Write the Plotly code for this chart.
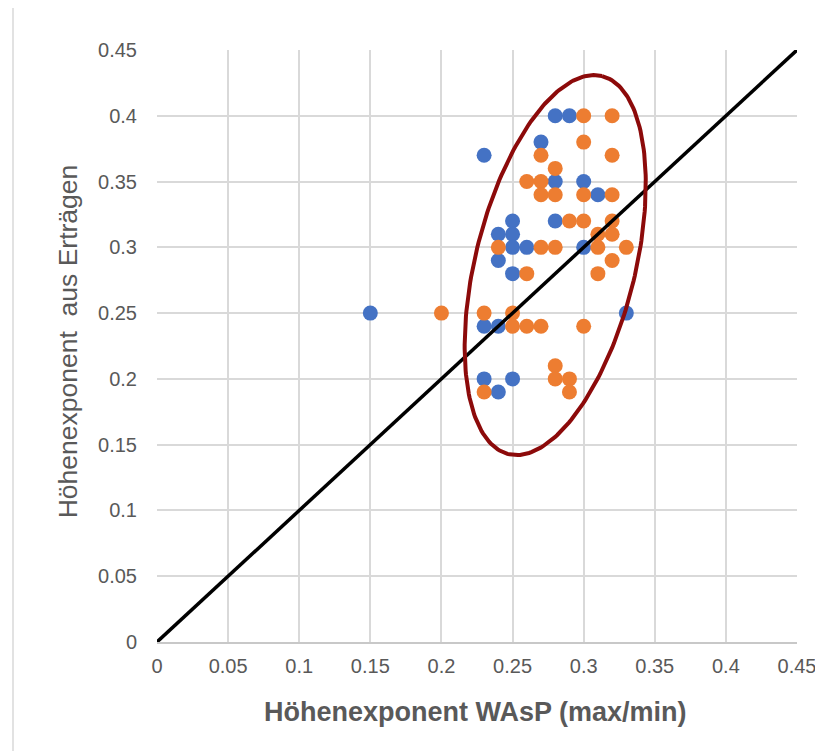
import numpy as np
import plotly.graph_objects as go

# ---- data ----
blue_x = [0.15, 0.23, 0.28, 0.29, 0.27, 0.28, 0.30, 0.31, 0.25, 0.28, 0.24, 0.25,
          0.25, 0.26, 0.30, 0.24, 0.25, 0.33, 0.23, 0.24, 0.23, 0.25, 0.24]
blue_y = [0.25, 0.37, 0.40, 0.40, 0.38, 0.35, 0.35, 0.34, 0.32, 0.32, 0.31, 0.31,
          0.30, 0.30, 0.30, 0.29, 0.28, 0.25, 0.24, 0.24, 0.20, 0.20, 0.19]

orange_x = [0.30, 0.32, 0.30, 0.27, 0.32, 0.28, 0.26, 0.27, 0.27, 0.28, 0.30, 0.32,
            0.29, 0.30, 0.32, 0.31, 0.32, 0.24, 0.27, 0.28, 0.31, 0.33, 0.32, 0.26,
            0.31, 0.20, 0.23, 0.25, 0.25, 0.26, 0.27, 0.30, 0.28, 0.28, 0.29, 0.29, 0.23]
orange_y = [0.40, 0.40, 0.38, 0.37, 0.37, 0.36, 0.35, 0.35, 0.34, 0.34, 0.34, 0.34,
            0.32, 0.32, 0.32, 0.31, 0.31, 0.30, 0.30, 0.30, 0.30, 0.30, 0.29, 0.28,
            0.28, 0.25, 0.25, 0.25, 0.24, 0.24, 0.24, 0.24, 0.21, 0.20, 0.20, 0.19, 0.19]

diag_x = [0, 0.45]
diag_y = [0, 0.45]

tick_vals = [0, 0.05, 0.1, 0.15, 0.2, 0.25, 0.3, 0.35, 0.4, 0.45]
tick_text = ["0", "0.05", "0.1", "0.15", "0.2", "0.25", "0.3", "0.35", "0.4", "0.45"]

x_title = "Höhenexponent WAsP (max/min)"
y_title = "Höhenexponent\u00a0 aus Erträgen"

# ---- figure geometry (page adds an 8px body margin) ----
W, H = 815, 743
ML, MR, MT, MB = 149, 26, 42, 109
PW, PH = W - ML - MR, H - MT - MB
sx = PW / 0.45
sy = PH / 0.45

# ---- highlight ellipse (decoration) ----
ell_cx, ell_cy = 0.280, 0.2865
ell_a, ell_b, ell_tilt = 194.7, 79.9, np.radians(13.9)  # in pixels
t = np.linspace(0, 2 * np.pi, 240)
px = ell_a * np.cos(t) * np.sin(ell_tilt) + ell_b * np.sin(t) * np.cos(ell_tilt)
py = ell_a * np.cos(t) * np.cos(ell_tilt) - ell_b * np.sin(t) * np.sin(ell_tilt)
ell_x = ell_cx + px / sx
ell_y = ell_cy + py / sy

FONT = "Liberation Sans, Arial, sans-serif"
GREY = "#595959"

fig = go.Figure()
fig.add_trace(go.Scatter(x=blue_x, y=blue_y, mode="markers",
                         marker=dict(color="#4472C4", size=15, line=dict(width=0))))
fig.add_trace(go.Scatter(x=orange_x, y=orange_y, mode="markers",
                         marker=dict(color="#ED7D31", size=15, line=dict(width=0))))
fig.add_trace(go.Scatter(x=diag_x, y=diag_y, mode="lines",
                         line=dict(color="black", width=3.5)))
fig.add_trace(go.Scatter(x=ell_x, y=ell_y, mode="lines",
                         line=dict(color="#8C0A0A", width=4)))

axis_common = dict(
    range=[0, 0.45], tickvals=tick_vals, ticktext=tick_text,
    showgrid=True, gridcolor="#d9d9d9", gridwidth=1.5,
    zeroline=False, ticks="", fixedrange=True,
    tickfont=dict(family=FONT, size=20, color=GREY),
)
fig.update_xaxes(**axis_common, showline=True, linecolor="#c8c8c8", linewidth=2,
                 ticklabelstandoff=5)
fig.update_yaxes(**axis_common, showline=False, ticklabelstandoff=19)

fig.update_layout(
    width=W, height=H,
    margin=dict(l=ML, r=MR, t=MT, b=MB, autoexpand=False),
    paper_bgcolor="white", plot_bgcolor="white",
    showlegend=False,
    annotations=[
        dict(text="<b>" + x_title + "</b>", xref="paper", yref="paper", x=0.497, y=0,
             xanchor="center", yanchor="middle", yshift=-70, showarrow=False,
             font=dict(family=FONT, size=27, color=GREY)),
        dict(text=y_title, xref="paper", yref="paper", x=0, y=0.508,
             xanchor="center", yanchor="middle", xshift=-89, textangle=-90,
             showarrow=False,
             font=dict(family=FONT, size=26.5, color=GREY)),
    ],
    shapes=[
        dict(type="rect", xref="paper", yref="paper",
             x0=(5 - ML) / PW, x1=2.0, y0=-2.0, y1=(H - MB + 3) / PH,
             line=dict(color="#d9d9d9", width=1.5), fillcolor="rgba(0,0,0,0)",
             layer="below"),
    ],
)

fig.write_html("out.html")
